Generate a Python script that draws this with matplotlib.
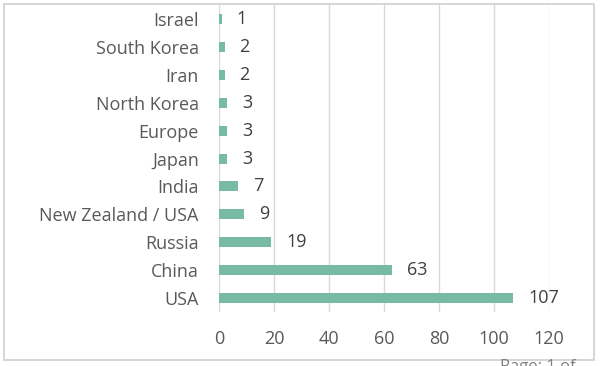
import matplotlib
matplotlib.use("Agg")
import matplotlib.pyplot as plt
from matplotlib.patches import Rectangle

categories = ["Israel", "South Korea", "Iran", "North Korea", "Europe", "Japan",
              "India", "New Zealand / USA", "Russia", "China", "USA"]
values = [1, 2, 2, 3, 3, 3, 7, 9, 19, 63, 107]
xticks = [0, 20, 40, 60, 80, 100, 120]

plt.rcParams['font.family'] = ['Open Sans', 'DejaVu Sans']

fig = plt.figure(figsize=(6, 3.66), dpi=100)
ax = fig.add_axes([0.365, 0.1475, 0.55, 0.8385])

ypos = list(range(len(categories)))
ax.barh(ypos, values, height=0.36, color="#78BBA4", zorder=3)
ax.set_ylim(len(categories) - 0.5, -0.5)
ax.set_xlim(0, 120)
ax.set_yticks(ypos)
ax.set_yticklabels(categories, fontsize=13, color="#595959")
ax.set_xticks(xticks)
ax.set_xticklabels([str(t) for t in xticks], fontsize=13, color="#595959")
ax.tick_params(axis="both", length=0)
ax.tick_params(axis="y", pad=14.5)
ax.tick_params(axis="x", pad=13)
for s in ax.spines.values():
    s.set_visible(False)
ax.grid(axis="x", color="#d9d9d9", linewidth=1, zorder=0)
ax.set_axisbelow(True)

for y, v in zip(ypos, values):
    ax.text(v + 5.5, y, str(v), va="center", ha="left", fontsize=13, color="#404040")

fig.patches.append(Rectangle((4/600, 6/366), 590/600, 356/366, transform=fig.transFigure,
                             fill=False, edgecolor="#d0d0d0", linewidth=1.2))
fig.text(500/600, -9/366, "Page: 1 of", fontsize=12, color="#808080", va="bottom")

fig.savefig("out.png", dpi=100)
